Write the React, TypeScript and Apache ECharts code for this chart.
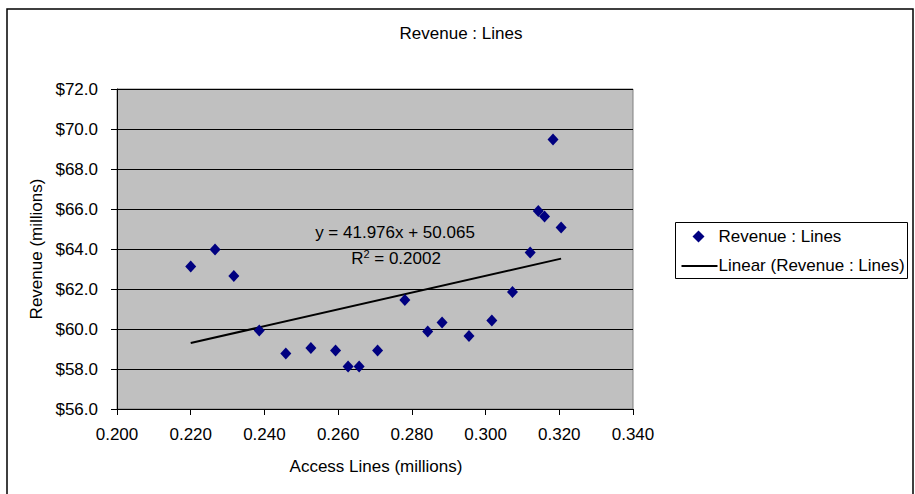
import React, { useEffect, useRef } from "react";
import * as echarts from "echarts";

const accessLines = [
  0.220, 0.2266, 0.2317, 0.2386, 0.2458, 0.2526, 0.2593, 0.2627, 0.2657, 0.2707,
  0.2781, 0.2843, 0.2882, 0.2955, 0.3017, 0.3073, 0.3121, 0.3143, 0.3160, 0.3183, 0.3205,
];
const revenue = [
  63.12, 63.98, 62.65, 59.92, 58.77, 59.05, 58.92, 58.12, 58.12, 58.92,
  61.45, 59.87, 60.33, 59.65, 60.42, 61.85, 63.82, 65.9, 65.62, 69.47, 65.08,
];
const trendSlope = 41.976;
const trendIntercept = 50.065;
const titleText = "Revenue : Lines";
const seriesName = "Revenue : Lines";
const trendName = "Linear (Revenue : Lines)";
const xAxisTitle = "Access Lines (millions)";
const yAxisTitle = "Revenue (millions)";

const FONT = "'Liberation Sans', Arial, sans-serif";

export default function App() {
  const ref = useRef<HTMLDivElement>(null);
  useEffect(() => {
    if (!ref.current) return;
    const chart = echarts.init(ref.current, null, { renderer: "svg" });
    const points = accessLines.map((x, i) => [x, revenue[i]]);
    const xMin = Math.min(...accessLines);
    const xMax = Math.max(...accessLines);
    const trend = [
      [xMin, trendSlope * xMin + trendIntercept],
      [xMax, trendSlope * xMax + trendIntercept],
    ];
    const gridLeft = 117, gridTop = 89, gridW = 516, gridH = 320;
    chart.setOption({
      animation: false,
      textStyle: { fontFamily: FONT },
      grid: {
        left: gridLeft, top: gridTop, width: gridW, height: gridH,
        show: true, backgroundColor: "#C0C0C0", borderColor: "#808080", borderWidth: 1,
      },
      xAxis: {
        type: "value", min: 0.2, max: 0.34, interval: 0.02,
        axisLine: { show: true, onZero: false, lineStyle: { color: "#000", width: 1 } },
        axisTick: { show: true, length: 6, lineStyle: { color: "#000" } },
        splitLine: { show: false },
        axisLabel: {
          color: "#000", fontSize: 17, fontFamily: FONT, margin: 17,
          formatter: (v: number) => v.toFixed(3),
        },
      },
      yAxis: {
        type: "value", min: 56, max: 72, interval: 2,
        axisLine: { show: true, onZero: false, lineStyle: { color: "#000", width: 1 } },
        axisTick: { show: true, length: 6, lineStyle: { color: "#000" } },
        splitLine: { show: true, lineStyle: { color: "#000", width: 1 } },
        axisLabel: {
          color: "#000", fontSize: 17, fontFamily: FONT, margin: 19,
          formatter: (v: number) => "$" + v.toFixed(1),
        },
      },
      series: [
        {
          name: seriesName, type: "scatter", data: points,
          symbol: "diamond", symbolSize: [11, 12],
          itemStyle: { color: "#000080", opacity: 1 }, z: 3,
        },
        {
          name: trendName, type: "line", data: trend, symbol: "none",
          lineStyle: { color: "#000", width: 2 }, z: 2,
        },
      ],
      graphic: [
        {
          type: "rect", shape: { x: 7, y: 9, width: 906, height: 500 },
          style: { fill: "none", stroke: "#000", lineWidth: 1.5 }, z: -10, silent: true,
        },
        {
          type: "text", x: 461, y: 33,
          style: { text: titleText, fontSize: 17, fontFamily: FONT, fill: "#000", align: "center", verticalAlign: "middle" },
        },
        {
          type: "text", x: 376, y: 466,
          style: { text: xAxisTitle, fontSize: 17, fontFamily: FONT, fill: "#000", align: "center", verticalAlign: "middle" },
        },
        {
          type: "text", x: 36, y: 249, rotation: Math.PI / 2,
          style: { text: yAxisTitle, fontSize: 17, fontFamily: FONT, fill: "#000", align: "center", verticalAlign: "middle" },
        },
        {
          type: "text", x: 395, y: 232, z: 10,
          style: {
            text: "y = " + trendSlope.toFixed(3) + "x + " + trendIntercept.toFixed(3),
            fontSize: 17, fontFamily: FONT, fill: "#000", align: "center", verticalAlign: "middle",
          },
        },
        {
          type: "text", x: 396, y: 258, z: 10,
          style: {
            text: "{a|R}{s|2}{a| = 0.2002}",
            align: "center", verticalAlign: "middle",
            rich: {
              a: { fontSize: 17, fontFamily: FONT, fill: "#000", color: "#000" },
              s: { fontSize: 11, fontFamily: FONT, color: "#000", verticalAlign: "top", padding: [0, 0, 8, 0] },
            },
          },
        },
        {
          type: "group", left: 675, top: 222,
          children: [
            { type: "rect", shape: { x: 0, y: 0, width: 232, height: 56 }, style: { fill: "#fff", stroke: "#000", lineWidth: 1 } },
            { type: "polygon", shape: { points: [[23, 8], [29, 14], [23, 20], [17, 14]] }, style: { fill: "#000080" } },
            { type: "text", x: 43, y: 14, style: { text: seriesName, fontSize: 17, fontFamily: FONT, fill: "#000", verticalAlign: "middle" } },
            { type: "line", shape: { x1: 6, y1: 43.5, x2: 42, y2: 43.5 }, style: { stroke: "#000", lineWidth: 2 } },
            { type: "text", x: 43, y: 43, style: { text: trendName, fontSize: 17, fontFamily: FONT, fill: "#000", verticalAlign: "middle" } },
          ],
        },
      ],
    });
    return () => chart.dispose();
  }, []);
  return <div ref={ref} style={{ position: "absolute", left: 0, top: 0, width: 915, height: 494 }} />;
}
